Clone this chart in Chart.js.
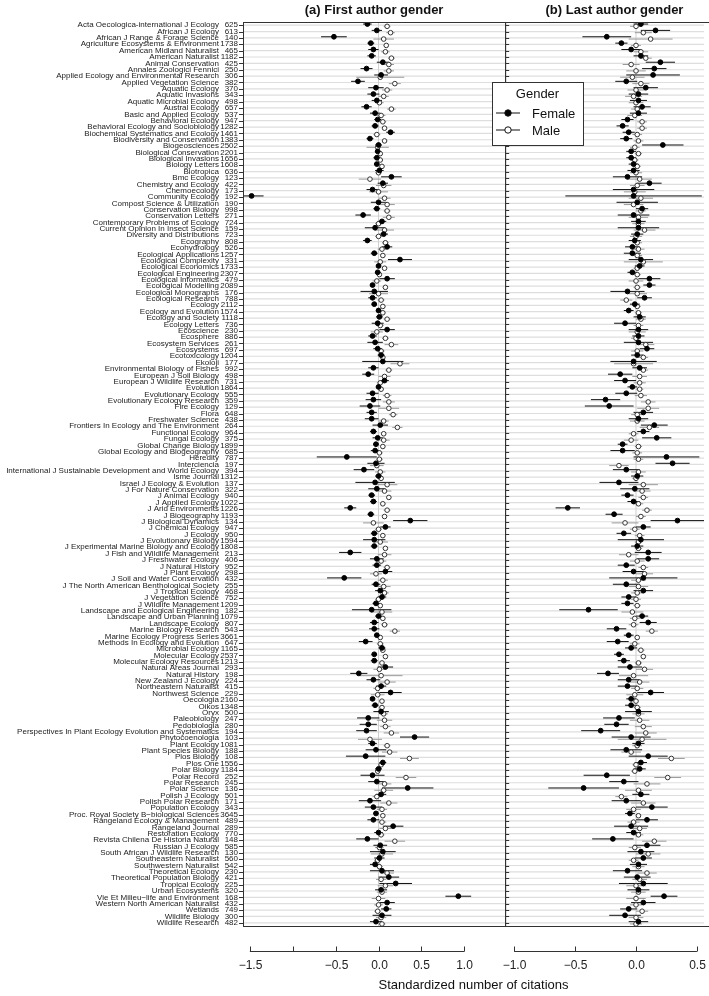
<!DOCTYPE html>
<html>
<head>
<meta charset="utf-8">
<script src="https://cdn.jsdelivr.net/npm/chart.js@4.4.1/dist/chart.umd.min.js"></script>
<style>
  body { margin: 0; background: #fff; overflow: hidden; }
  canvas { display: block; }
</style>
</head>
<body>
<canvas id="citeChart" width="709" height="996"></canvas>
<script>
// journals, top to bottom, with number of articles
var journals = [
  "Acta Oecologica-international J Ecology", "African J Ecology", "African J Range & Forage Science",
  "Agriculture Ecosystems & Environment", "American Midland Naturalist", "American Naturalist",
  "Animal Conservation", "Annales Zoologici Fennici", "Applied Ecology and Environmental Research",
  "Applied Vegetation Science", "Aquatic Ecology", "Aquatic Invasions", "Aquatic Microbial Ecology",
  "Austral Ecology", "Basic and Applied Ecology", "Behavioral Ecology", "Behavioral Ecology and Sociobiology",
  "Biochemical Systematics and Ecology", "Biodiversity and Conservation", "Biogeosciences",
  "Biological Conservation", "Biological Invasions", "Biology Letters", "Biotropica", "Bmc Ecology",
  "Chemistry and Ecology", "Chemoecology", "Community Ecology", "Compost Science & Utilization",
  "Conservation Biology", "Conservation Letters", "Contemporary Problems of Ecology",
  "Current Opinion In Insect Science", "Diversity and Distributions", "Ecography", "Ecohydrology",
  "Ecological Applications", "Ecological Complexity", "Ecological Economics", "Ecological Engineering",
  "Ecological Informatics", "Ecological Modelling", "Ecological Monographs", "Ecological Research",
  "Ecology", "Ecology and Evolution", "Ecology and Society", "Ecology Letters", "Ecoscience", "Ecosphere",
  "Ecosystem Services", "Ecosystems", "Ecotoxicology", "Ekoloji", "Environmental Biology of Fishes",
  "European J Soil Biology", "European J Wildlife Research", "Evolution", "Evolutionary Ecology",
  "Evolutionary Ecology Research", "Fire Ecology", "Flora", "Freshwater Science",
  "Frontiers In Ecology and The Environment", "Functional Ecology", "Fungal Ecology", "Global Change Biology",
  "Global Ecology and Biogeography", "Heredity", "Interciencia",
  "International J Sustainable Development and World Ecology", "Isme Journal", "Israel J Ecology & Evolution",
  "J For Nature Conservation", "J Animal Ecology", "J Applied Ecology", "J Arid Environments", "J Biogeography",
  "J Biological Dynamics", "J Chemical Ecology", "J Ecology", "J Evolutionary Biology",
  "J Experimental Marine Biology and Ecology", "J Fish and Wildlife Management", "J Freshwater Ecology",
  "J Natural History", "J Plant Ecology", "J Soil and Water Conservation",
  "J The North American Benthological Society", "J Tropical Ecology", "J Vegetation Science",
  "J Wildlife Management", "Landscape and Ecological Engineering", "Landscape and Urban Planning",
  "Landscape Ecology", "Marine Biology Research", "Marine Ecology Progress Series",
  "Methods In Ecology and Evolution", "Microbial Ecology", "Molecular Ecology", "Molecular Ecology Resources",
  "Natural Areas Journal", "Natural History", "New Zealand J Ecology", "Northeastern Naturalist",
  "Northwest Science", "Oecologia", "Oikos", "Oryx", "Paleobiology", "Pedobiologia",
  "Perspectives In Plant Ecology Evolution and Systematics", "Phytocoenologia", "Plant Ecology",
  "Plant Species Biology", "Plos Biology", "Plos One", "Polar Biology", "Polar Record", "Polar Research",
  "Polar Science", "Polish J Ecology", "Polish Polar Research", "Population Ecology",
  "Proc. Royal Society B\u2212biological Sciences", "Rangeland Ecology & Management", "Rangeland Journal",
  "Restoration Ecology", "Revista Chilena De Historia Natural", "Russian J Ecology",
  "South African J Wildlife Research", "Southeastern Naturalist", "Southwestern Naturalist",
  "Theoretical Ecology", "Theoretical Population Biology", "Tropical Ecology", "Urban Ecosystems",
  "Vie Et Milieu\u2212life and Environment", "Western North American Naturalist", "Wetlands",
  "Wildlife Biology", "Wildlife Research"
];
var articles = [
  625, 613, 140, 1738, 465, 1182, 425, 250, 306, 382,
  370, 343, 498, 657, 537, 947, 1282, 1461, 1383, 2502,
  2201, 1656, 1608, 636, 123, 422, 173, 192, 190, 998,
  271, 724, 159, 723, 808, 526, 1257, 331, 1733, 2307,
  479, 2089, 176, 788, 2112, 1574, 1118, 736, 230, 886,
  261, 697, 1204, 177, 992, 498, 731, 1864, 555, 359,
  129, 648, 438, 264, 964, 375, 1899, 685, 787, 197,
  394, 1312, 137, 322, 940, 1022, 1226, 1193, 134, 947,
  950, 1594, 1808, 213, 406, 952, 298, 432, 255, 468,
  752, 1209, 182, 1079, 807, 543, 3661, 647, 1165, 2537,
  1213, 293, 198, 224, 415, 229, 2160, 1348, 500, 247,
  280, 194, 103, 1081, 188, 108, 1556, 1184, 252, 245,
  136, 501, 171, 343, 3645, 489, 289, 770, 148, 585,
  130, 560, 542, 230, 421, 225, 320, 168, 432, 749,
  300, 482
];

// (a) first author: standardized citations and half-width of the interval
var femaleFirst = [
  -0.13, -0.02, -0.52, -0.09, -0.06, -0.08, 0.05, -0.14, 0.03, -0.24,
  -0.03, -0.06, -0.02, -0.14, -0.04, -0.01, -0.04, 0.14, -0.10, 0.00,
  -0.01, -0.02, -0.02, 0.01, 0.15, 0.05, -0.07, -1.48, 0.00, -0.02,
  -0.18, 0.04, -0.04, 0.06, -0.13, 0.10, -0.05, 0.25, 0.00, -0.01,
  0.10, -0.07, -0.05, -0.07, -0.05, 0.00, 0.01, -0.01, 0.10, -0.07,
  -0.04, -0.01, 0.03, 0.05, -0.06, -0.12, 0.07, 0.00, -0.07, -0.06,
  -0.10, -0.08, -0.08, 0.02, -0.06, -0.01, -0.03, -0.04, -0.37, -0.03,
  -0.17, 0.00, -0.04, -0.02, -0.08, -0.06, -0.33, -0.09, 0.37, 0.08,
  -0.05, -0.05, -0.05, -0.33, -0.02, -0.02, 0.08, -0.40, -0.03, 0.02,
  0.04, -0.03, -0.08, 0.00, -0.05, -0.05, -0.02, -0.15, 0.04, -0.05,
  -0.05, 0.08, -0.23, -0.06, 0.03, 0.14, -0.07, -0.04, 0.03, -0.12,
  -0.12, -0.14, 0.42, -0.07, -0.03, -0.15, 0.05, 0.00, -0.07, -0.02,
  0.34, 0.03, -0.10, -0.06, -0.03, -0.06, 0.17, 0.00, -0.13, 0.02,
  0.05, 0.01, -0.04, 0.04, 0.12, 0.20, 0.03, 0.93, 0.10, 0.09,
  0.04, -0.03
];
var femaleFirstCI = [
  0.05, 0.06, 0.15, 0.04, 0.06, 0.05, 0.07, 0.07, 0.08, 0.08,
  0.09, 0.07, 0.06, 0.06, 0.06, 0.04, 0.04, 0.05, 0.04, 0.04,
  0.03, 0.04, 0.03, 0.05, 0.12, 0.06, 0.07, 0.14, 0.09, 0.04,
  0.09, 0.05, 0.12, 0.05, 0.05, 0.06, 0.04, 0.14, 0.03, 0.03,
  0.09, 0.03, 0.16, 0.05, 0.03, 0.03, 0.04, 0.07, 0.09, 0.05,
  0.09, 0.05, 0.04, 0.24, 0.06, 0.07, 0.05, 0.03, 0.07, 0.09,
  0.12, 0.06, 0.08, 0.09, 0.04, 0.06, 0.03, 0.05, 0.35, 0.10,
  0.12, 0.04, 0.23, 0.10, 0.04, 0.04, 0.07, 0.04, 0.20, 0.06,
  0.04, 0.13, 0.04, 0.13, 0.08, 0.05, 0.08, 0.20, 0.05, 0.06,
  0.05, 0.04, 0.23, 0.04, 0.05, 0.06, 0.03, 0.08, 0.04, 0.03,
  0.04, 0.09, 0.10, 0.08, 0.06, 0.13, 0.03, 0.04, 0.09, 0.13,
  0.10, 0.12, 0.17, 0.05, 0.12, 0.23, 0.04, 0.04, 0.14, 0.10,
  0.30, 0.06, 0.13, 0.10, 0.03, 0.07, 0.12, 0.05, 0.13, 0.08,
  0.15, 0.06, 0.06, 0.14, 0.12, 0.19, 0.07, 0.15, 0.09, 0.06,
  0.11, 0.07
];
var maleFirst = [
  0.10, 0.14, 0.06, 0.09, 0.08, 0.15, 0.12, 0.12, 0.02, 0.19,
  0.10, 0.06, 0.01, 0.15, 0.03, 0.05, 0.07, -0.02, 0.07, -0.01,
  0.02, 0.02, 0.04, 0.00, -0.10, 0.06, 0.00, 0.07, 0.10, 0.10,
  0.12, 0.00, 0.07, 0.00, 0.08, 0.04, 0.05, 0.02, 0.07, 0.01,
  -0.02, 0.08, 0.00, 0.03, 0.05, 0.05, 0.10, 0.02, -0.02, 0.08,
  0.15, 0.03, 0.05, 0.25, 0.12, 0.07, 0.02, 0.03, 0.10, 0.12,
  0.12, 0.17, 0.06, 0.22, 0.06, 0.06, 0.05, 0.01, 0.01, -0.02,
  0.02, 0.03, 0.10, 0.07, 0.12, 0.05, 0.10, 0.07, -0.06, 0.00,
  0.05, 0.02, 0.08, 0.07, 0.03, 0.10, -0.03, 0.05, 0.06, 0.07,
  0.00, 0.02, 0.04, 0.05, 0.07, 0.19, 0.02, 0.02, 0.05, 0.08,
  0.04, 0.01, 0.03, 0.10, -0.01, -0.01, 0.04, 0.04, 0.06, 0.07,
  0.08, 0.15, -0.10, 0.10, 0.13, 0.36, 0.03, -0.01, 0.32, 0.07,
  0.06, -0.02, 0.12, 0.04, 0.05, 0.04, 0.08, 0.03, 0.19, 0.01,
  0.04, -0.01, 0.01, 0.10, 0.03, 0.08, 0.04, 0.00, 0.00, -0.01,
  0.03, 0.04
];
var maleFirstCI = [
  0.04, 0.05, 0.12, 0.03, 0.05, 0.04, 0.06, 0.06, 0.28, 0.07,
  0.06, 0.06, 0.05, 0.05, 0.05, 0.04, 0.03, 0.04, 0.03, 0.13,
  0.03, 0.03, 0.03, 0.04, 0.13, 0.09, 0.11, 0.07, 0.09, 0.04,
  0.07, 0.04, 0.11, 0.04, 0.04, 0.05, 0.03, 0.07, 0.03, 0.03,
  0.05, 0.03, 0.11, 0.04, 0.03, 0.03, 0.04, 0.04, 0.07, 0.04,
  0.08, 0.04, 0.03, 0.11, 0.04, 0.07, 0.04, 0.03, 0.05, 0.07,
  0.12, 0.05, 0.06, 0.06, 0.03, 0.07, 0.03, 0.04, 0.04, 0.08,
  0.06, 0.03, 0.12, 0.08, 0.03, 0.03, 0.04, 0.03, 0.12, 0.04,
  0.03, 0.09, 0.03, 0.08, 0.06, 0.04, 0.07, 0.06, 0.08, 0.05,
  0.04, 0.03, 0.12, 0.03, 0.04, 0.06, 0.02, 0.04, 0.03, 0.02,
  0.03, 0.07, 0.25, 0.10, 0.05, 0.08, 0.02, 0.03, 0.05, 0.09,
  0.06, 0.09, 0.14, 0.04, 0.09, 0.11, 0.03, 0.03, 0.12, 0.08,
  0.11, 0.05, 0.10, 0.06, 0.02, 0.05, 0.07, 0.04, 0.12, 0.05,
  0.13, 0.04, 0.04, 0.08, 0.06, 0.09, 0.06, 0.08, 0.05, 0.04,
  0.06, 0.04
];

// (b) last author
var femaleLast = [
  0.04, 0.16, -0.24, -0.12, -0.04, 0.04, 0.20, 0.15, 0.14, -0.08,
  0.08, 0.02, 0.02, 0.05, 0.02, -0.07, -0.11, -0.06, -0.08, 0.22,
  -0.04, -0.04, -0.02, -0.02, -0.07, 0.11, -0.02, -0.02, 0.01, 0.05,
  -0.02, 0.02, 0.02, 0.01, -0.01, -0.03, -0.03, 0.04, 0.03, -0.03,
  0.11, 0.11, -0.07, 0.07, -0.01, -0.06, 0.03, -0.09, 0.02, 0.02,
  0.02, 0.09, 0.01, -0.02, 0.03, -0.13, -0.09, -0.03, -0.08, -0.25,
  -0.22, 0.06, 0.02, 0.15, 0.06, 0.17, -0.11, -0.11, 0.25, 0.30,
  -0.08, 0.01, -0.14, -0.01, -0.07, -0.02, -0.56, -0.18, 0.34, 0.06,
  -0.10, 0.04, 0.01, 0.10, 0.10, -0.08, -0.02, 0.06, -0.08, 0.06,
  -0.06, -0.07, -0.39, 0.05, 0.10, -0.16, -0.06, -0.15, -0.04, -0.14,
  -0.10, -0.05, -0.23, -0.06, -0.07, 0.12, -0.04, -0.04, 0.02, -0.14,
  -0.16, -0.29, -0.04, 0.02, -0.08, 0.10, 0.04, 0.03, -0.24, -0.10,
  -0.43, 0.04, -0.08, 0.13, -0.05, 0.09, -0.04, -0.02, -0.19, 0.09,
  0.04, 0.06, 0.02, -0.07, 0.01, 0.06, 0.02, 0.23, 0.06, -0.06,
  -0.09, 0.02
];
var femaleLastCI = [
  0.06, 0.12, 0.20, 0.05, 0.08, 0.06, 0.12, 0.10, 0.22, 0.09,
  0.10, 0.08, 0.07, 0.07, 0.07, 0.05, 0.05, 0.05, 0.05, 0.17,
  0.04, 0.04, 0.04, 0.05, 0.12, 0.10, 0.17, 0.56, 0.17, 0.05,
  0.13, 0.06, 0.17, 0.05, 0.05, 0.06, 0.07, 0.10, 0.04, 0.04,
  0.09, 0.05, 0.14, 0.06, 0.04, 0.04, 0.05, 0.09, 0.08, 0.05,
  0.12, 0.06, 0.05, 0.19, 0.06, 0.10, 0.09, 0.04, 0.09, 0.12,
  0.20, 0.08, 0.08, 0.11, 0.05, 0.12, 0.04, 0.10, 0.27, 0.14,
  0.11, 0.05, 0.16, 0.12, 0.05, 0.05, 0.10, 0.07, 0.22, 0.06,
  0.06, 0.19, 0.05, 0.11, 0.09, 0.07, 0.09, 0.28, 0.11, 0.08,
  0.06, 0.05, 0.24, 0.05, 0.07, 0.08, 0.04, 0.09, 0.05, 0.04,
  0.05, 0.10, 0.09, 0.09, 0.08, 0.11, 0.04, 0.05, 0.11, 0.13,
  0.10, 0.16, 0.16, 0.05, 0.13, 0.16, 0.05, 0.05, 0.19, 0.12,
  0.29, 0.07, 0.12, 0.13, 0.04, 0.09, 0.14, 0.06, 0.17, 0.11,
  0.11, 0.07, 0.07, 0.12, 0.11, 0.20, 0.09, 0.11, 0.10, 0.07,
  0.13, 0.08
];
var maleLast = [
  0.00, 0.06, 0.12, 0.00, 0.04, 0.08, -0.04, 0.00, -0.03, 0.04,
  0.00, -0.02, 0.00, 0.01, -0.01, 0.05, 0.05, 0.01, 0.02, -0.01,
  0.02, -0.01, 0.01, 0.00, 0.03, 0.01, -0.01, 0.04, -0.02, 0.04,
  0.02, 0.02, 0.07, 0.00, 0.01, 0.02, 0.01, 0.06, 0.01, 0.01,
  0.00, 0.01, 0.01, -0.08, 0.01, 0.02, 0.04, 0.02, 0.01, 0.00,
  0.08, 0.01, 0.06, -0.02, 0.06, 0.03, 0.03, 0.03, 0.04, 0.10,
  0.10, 0.01, 0.01, 0.11, -0.02, -0.04, 0.02, 0.01, 0.02, -0.14,
  0.02, 0.00, 0.06, 0.05, 0.06, 0.02, 0.09, 0.04, -0.09, -0.01,
  0.03, 0.02, 0.02, -0.06, 0.01, 0.06, 0.07, 0.02, 0.02, 0.01,
  0.00, 0.01, -0.03, -0.01, -0.02, 0.13, 0.01, -0.01, 0.04, 0.06,
  0.02, 0.07, -0.02, 0.03, 0.01, -0.01, 0.00, 0.01, 0.02, 0.03,
  0.06, 0.08, 0.05, 0.01, -0.04, 0.29, 0.00, -0.01, 0.26, 0.09,
  0.02, -0.12, 0.06, -0.02, 0.02, -0.02, 0.03, 0.02, 0.15, -0.01,
  0.10, -0.02, 0.02, 0.09, 0.03, 0.00, 0.02, 0.00, 0.00, 0.05,
  0.00, 0.00
];
var maleLastCI = [
  0.05, 0.07, 0.18, 0.04, 0.06, 0.05, 0.07, 0.08, 0.10, 0.07,
  0.07, 0.07, 0.06, 0.05, 0.06, 0.04, 0.04, 0.04, 0.04, 0.04,
  0.03, 0.03, 0.03, 0.05, 0.10, 0.06, 0.09, 0.10, 0.08, 0.04,
  0.08, 0.05, 0.09, 0.05, 0.04, 0.05, 0.04, 0.16, 0.03, 0.03,
  0.06, 0.03, 0.08, 0.05, 0.03, 0.03, 0.04, 0.04, 0.07, 0.04,
  0.07, 0.05, 0.04, 0.16, 0.04, 0.06, 0.05, 0.03, 0.05, 0.06,
  0.09, 0.05, 0.06, 0.08, 0.04, 0.06, 0.03, 0.04, 0.04, 0.08,
  0.06, 0.03, 0.12, 0.07, 0.04, 0.04, 0.04, 0.04, 0.11, 0.04,
  0.04, 0.03, 0.03, 0.08, 0.06, 0.04, 0.07, 0.06, 0.08, 0.05,
  0.04, 0.03, 0.09, 0.04, 0.04, 0.05, 0.02, 0.04, 0.03, 0.02,
  0.03, 0.07, 0.12, 0.08, 0.05, 0.07, 0.02, 0.03, 0.05, 0.08,
  0.07, 0.09, 0.20, 0.04, 0.08, 0.11, 0.03, 0.03, 0.11, 0.11,
  0.11, 0.05, 0.10, 0.06, 0.02, 0.05, 0.06, 0.04, 0.10, 0.05,
  0.10, 0.04, 0.05, 0.08, 0.06, 0.08, 0.06, 0.08, 0.05, 0.05,
  0.06, 0.05
];

var ticksFirst = [-1.5, -1.0, -0.5, 0.0, 0.5, 1.0];
var ticksLast = [-1.0, -0.5, 0.0, 0.5];
var panelTitles = ["(a) First author gender", "(b) Last author gender"];
var axisTitle = "Standardized number of citations";
var legendTitle = "Gender";
var genders = ["Female", "Male"];

var FONT = "'Liberation Sans', Arial, sans-serif";
var INK = "#222";

// visible value range of each panel, and the share of the plot width panel (a) takes
var rangeFirst = [-1.58, 1.476];
var rangeLast = [-1.074, 0.558];
var splitShare = 265 / 466;

// female marks sit a little above the row, male a little below
function rows(vals, ci, shift) {
  return vals.map(function (v, i) {
    return { x: v, y: i + 1 + shift, lo: v - ci[i], hi: v + ci[i] };
  });
}

function fmt(v) {
  return v.toFixed(1).replace("-", "\u2212");
}

var femaleStyle = { pointRadius: 2.4, pointBackgroundColor: "#000", pointBorderColor: "#000", pointBorderWidth: 1, barColor: "#111" };
var maleStyle = { pointRadius: 2.3, pointBackgroundColor: "#fff", pointBorderColor: "#333", pointBorderWidth: 1, barColor: "#9a9a9a" };

function series(label, vals, ci, shift, axis, st) {
  return {
    label: label, data: rows(vals, ci, shift), xAxisID: axis, yAxisID: "y",
    pointRadius: st.pointRadius, pointBackgroundColor: st.pointBackgroundColor,
    pointBorderColor: st.pointBorderColor, pointBorderWidth: st.pointBorderWidth,
    barColor: st.barColor, showLine: false
  };
}

// pixel span of each panel, from its own scale
function panelBox(chart, id) {
  var s = chart.scales[id], r = id === "xA" ? rangeFirst : rangeLast;
  return { scale: s, left: s.getPixelForValue(r[0]), right: s.getPixelForValue(r[1]) };
}

var panelPlugin = {
  id: "panels",
  beforeDatasetsDraw: function (chart) {
    var ctx = chart.ctx, a = chart.chartArea, y = chart.scales.y;
    ctx.save();
    // row guide lines
    ctx.strokeStyle = "#dedede";
    ctx.lineWidth = 1.2;
    journals.forEach(function (j, i) {
      var py = y.getPixelForValue(i + 1);
      ctx.beginPath(); ctx.moveTo(a.left, py); ctx.lineTo(a.right, py); ctx.stroke();
    });
    // zero lines
    ctx.strokeStyle = "#cfcfcf";
    ctx.lineWidth = 1;
    ["xA", "xB"].forEach(function (id) {
      var px = chart.scales[id].getPixelForValue(0);
      ctx.beginPath(); ctx.moveTo(px, a.top); ctx.lineTo(px, a.bottom); ctx.stroke();
    });
    // interval bars, kept inside their own panel
    chart.data.datasets.forEach(function (ds) {
      var p = panelBox(chart, ds.xAxisID), xs = p.scale;
      ctx.save();
      ctx.beginPath(); ctx.rect(p.left, a.top, p.right - p.left, a.bottom - a.top); ctx.clip();
      ctx.strokeStyle = ds.barColor;
      ctx.lineWidth = 1;
      ds.data.forEach(function (pt) {
        var py = y.getPixelForValue(pt.y);
        ctx.beginPath();
        ctx.moveTo(xs.getPixelForValue(pt.lo), py);
        ctx.lineTo(xs.getPixelForValue(pt.hi), py);
        ctx.stroke();
      });
      ctx.restore();
    });
    ctx.restore();
  },
  afterDraw: function (chart) {
    var ctx = chart.ctx, a = chart.chartArea, y = chart.scales.y;
    var pa = panelBox(chart, "xA"), pb = panelBox(chart, "xB");
    ctx.save();
    ctx.strokeStyle = "#333";
    ctx.lineWidth = 1;
    // panel frames (panel b runs off the right edge)
    ctx.strokeRect(Math.round(pa.left) + 0.5, a.top + 0.5, pa.right - pa.left, a.bottom - a.top);
    ctx.strokeRect(Math.round(pb.left) + 0.5, a.top + 0.5, pb.right - pb.left + 30, a.bottom - a.top);
    // row ticks
    journals.forEach(function (j, i) {
      var py = Math.round(y.getPixelForValue(i + 1)) + 0.5;
      ctx.beginPath(); ctx.moveTo(pa.left - 4, py); ctx.lineTo(pa.left, py); ctx.stroke();
      ctx.beginPath(); ctx.moveTo(pb.left, py); ctx.lineTo(pb.left + 4, py); ctx.stroke();
    });
    // row labels: journal name and article count
    ctx.fillStyle = INK;
    ctx.font = "8px " + FONT;
    ctx.textBaseline = "middle";
    ctx.textAlign = "right";
    journals.forEach(function (j, i) {
      var py = y.getPixelForValue(i + 1);
      ctx.fillText(j, pa.left - 24, py);
      ctx.fillText(String(articles[i]), pa.left - 5, py);
    });
    // base-R style x axes: line between first and last tick, ticks, labels
    var axisY = a.bottom + 25.5;
    ctx.font = "12px " + FONT;
    ctx.textAlign = "center";
    [[pa.scale, ticksFirst, [-1]], [pb.scale, ticksLast, []]].forEach(function (set) {
      var s = set[0], t = set[1], skip = set[2];
      var x0 = s.getPixelForValue(t[0]), x1 = s.getPixelForValue(t[t.length - 1]);
      ctx.beginPath(); ctx.moveTo(x0, axisY); ctx.lineTo(x1, axisY); ctx.stroke();
      t.forEach(function (v) {
        var px = Math.round(s.getPixelForValue(v)) + 0.5;
        ctx.beginPath(); ctx.moveTo(px, axisY); ctx.lineTo(px, axisY - 5); ctx.stroke();
        if (skip.indexOf(v) < 0) ctx.fillText(fmt(v), px, axisY + 14);
      });
    });
    // titles
    ctx.fillStyle = "#111";
    ctx.font = "bold 13px " + FONT;
    ctx.fillText(panelTitles[0], (pa.left + pa.right) / 2, 10);
    ctx.fillText(panelTitles[1], (pb.left + pb.scale.getPixelForValue(0.72)) / 2, 10);
    ctx.font = "13px " + FONT;
    ctx.fillText(axisTitle, (pa.left + a.right) / 2, 985);
    // legend
    var lx = 492, ly = 82, lw = 91, lh = 63;
    ctx.fillStyle = "#fff";
    ctx.fillRect(lx, ly, lw, lh);
    ctx.strokeStyle = "#333";
    ctx.strokeRect(lx + 0.5, ly + 0.5, lw, lh);
    ctx.fillStyle = "#111";
    ctx.fillText(legendTitle, lx + lw / 2, ly + 12);
    var styles = [femaleStyle, maleStyle];
    genders.forEach(function (g, k) {
      var gy = ly + 31 + k * 17;
      ctx.strokeStyle = "#111";
      ctx.beginPath(); ctx.moveTo(lx + 4, gy); ctx.lineTo(lx + 28, gy); ctx.stroke();
      ctx.beginPath(); ctx.arc(lx + 16, gy, 3.2, 0, Math.PI * 2);
      ctx.fillStyle = styles[k].pointBackgroundColor; ctx.fill();
      ctx.strokeStyle = "#111"; ctx.stroke();
      ctx.fillStyle = "#111";
      ctx.textAlign = "left";
      ctx.fillText(g, lx + 40, gy + 1);
    });
    ctx.restore();
  }
};

// both x scales span the whole plot; each panel only shows its own range
var widthFirst = rangeFirst[1] - rangeFirst[0];
var widthLast = rangeLast[1] - rangeLast[0];

new Chart(document.getElementById("citeChart"), {
  type: "scatter",
  data: {
    datasets: [
      series("Female", femaleFirst, femaleFirstCI, -0.18, "xA", femaleStyle),
      series("Male", maleFirst, maleFirstCI, 0.18, "xA", maleStyle),
      series("Female", femaleLast, femaleLastCI, -0.18, "xB", femaleStyle),
      series("Male", maleLast, maleLastCI, 0.18, "xB", maleStyle)
    ]
  },
  options: {
    responsive: false,
    animation: false,
    devicePixelRatio: 1,
    layout: { padding: { left: 243, top: 22, right: 0, bottom: 70 } },
    scales: {
      xA: { type: "linear", display: false, min: rangeFirst[0], max: rangeFirst[0] + widthFirst / splitShare },
      xB: { type: "linear", display: false, min: rangeLast[1] - widthLast / (1 - splitShare), max: rangeLast[1] },
      y: { type: "linear", reverse: true, min: 0.5, max: journals.length + 0.5, display: false }
    },
    plugins: { legend: { display: false }, tooltip: { enabled: false } }
  },
  plugins: [panelPlugin]
});
</script>
</body>
</html>
